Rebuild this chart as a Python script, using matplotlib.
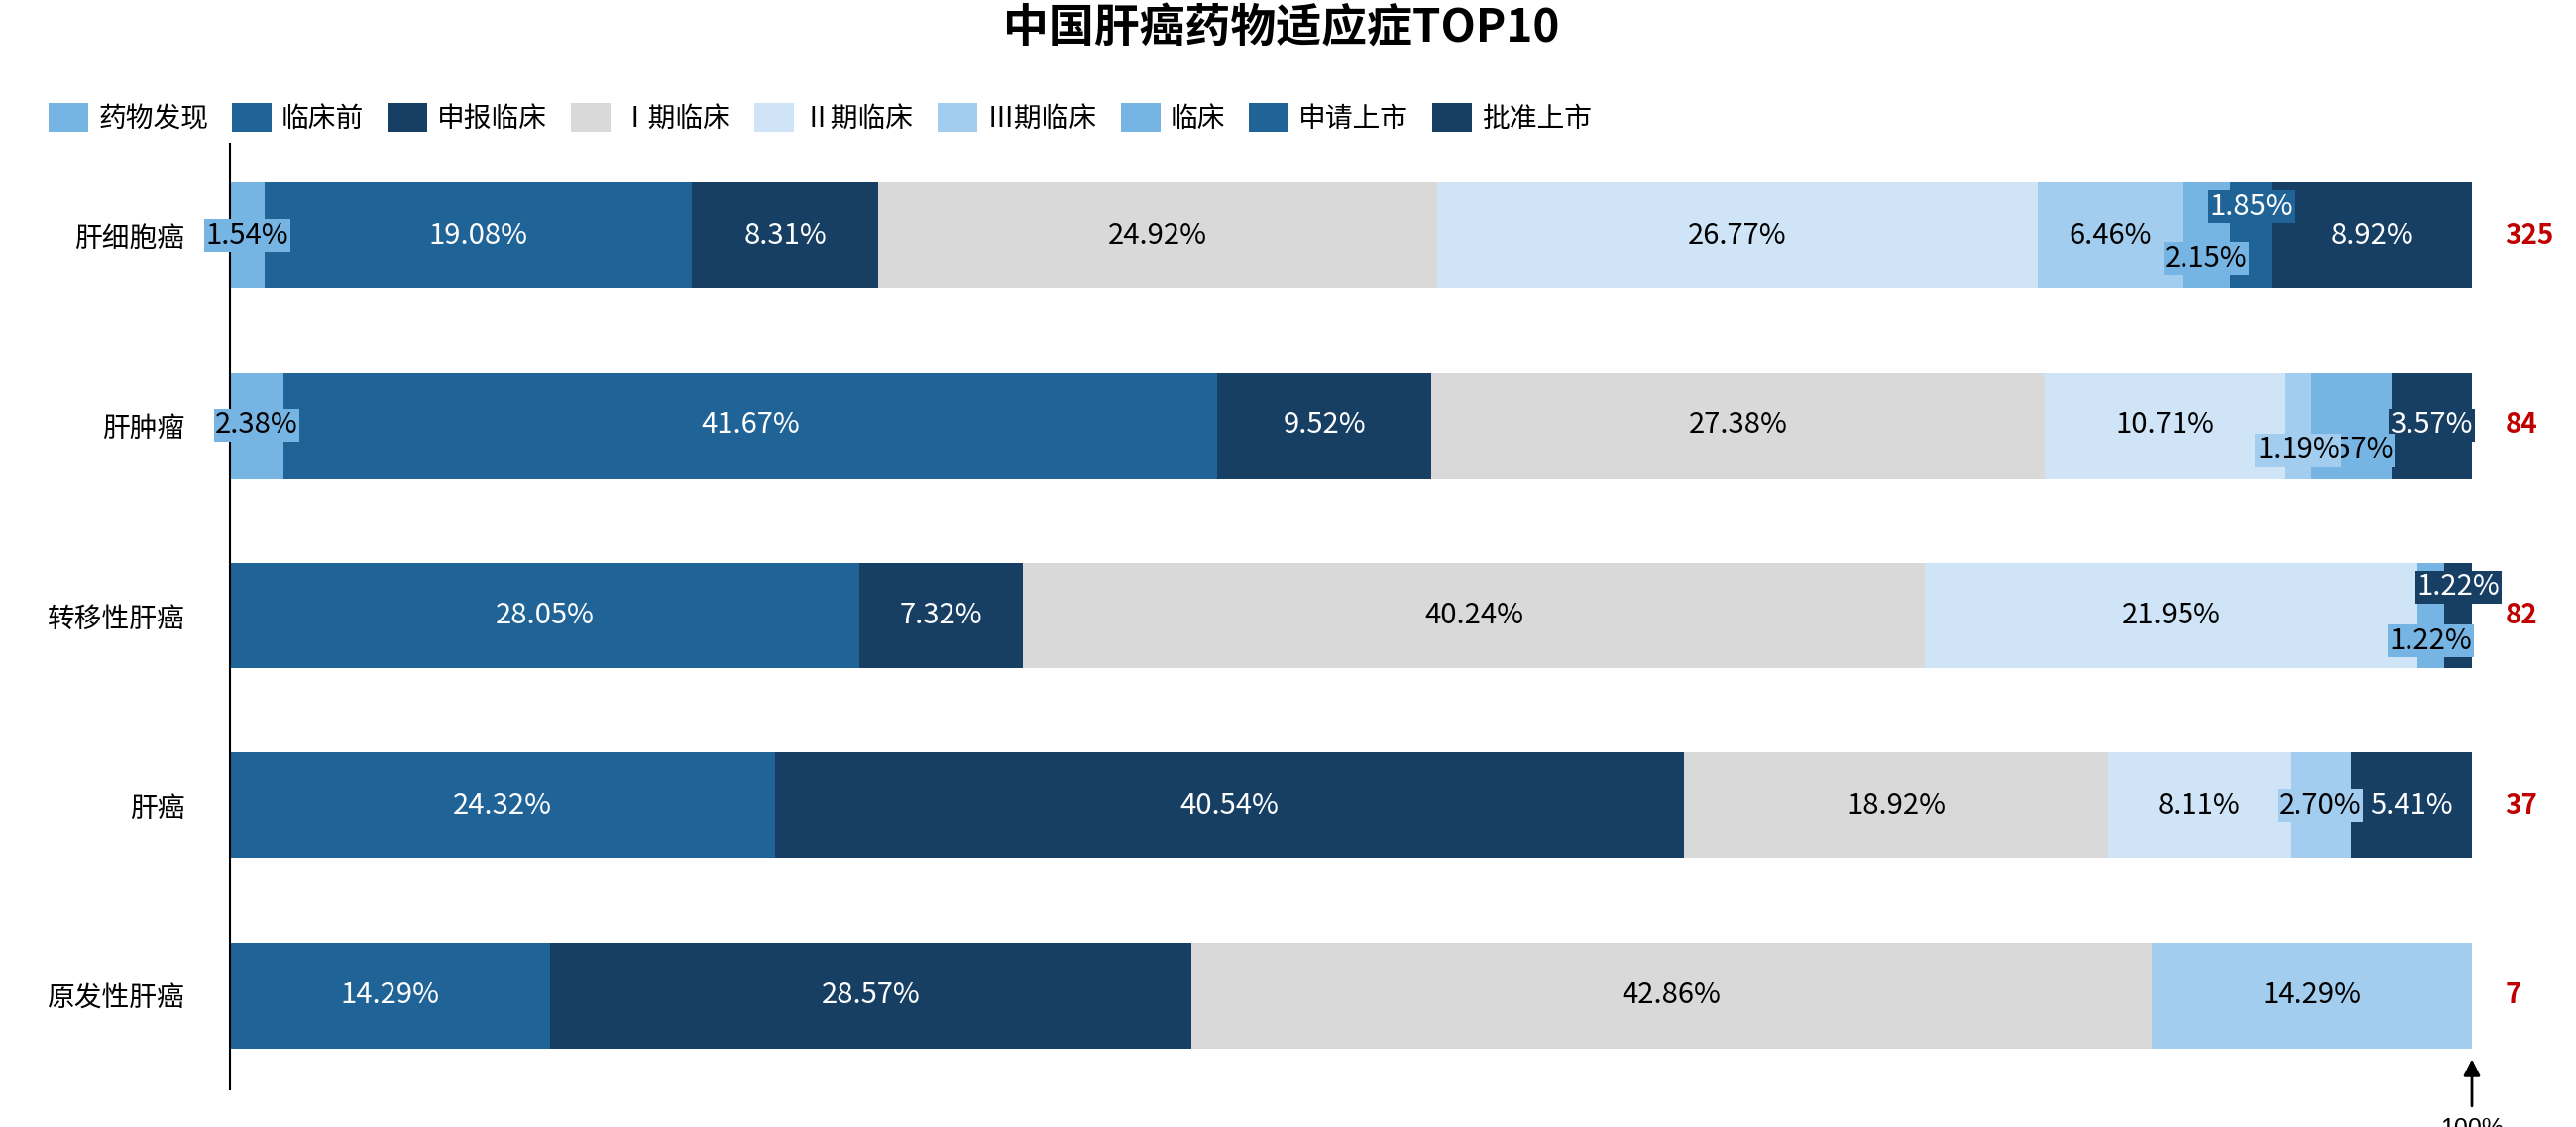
import matplotlib
matplotlib.use("Agg")
import matplotlib.pyplot as plt
from matplotlib.patches import Patch
import numpy as np

plt.rcParams['font.family'] = ['Noto Sans CJK SC', 'DejaVu Sans']

# data (percent of indications per stage)
categories = ['肝细胞癌', '肝肿瘤', '转移性肝癌', '肝癌', '原发性肝癌']
totals = [325, 84, 82, 37, 7]
stages = ['药物发现', '临床前', '申报临床', 'Ⅰ期临床', 'Ⅱ期临床', 'Ⅲ期临床', '临床', '申请上市', '批准上市']

drug_discovery = [1.54, 2.38, 0, 0, 0]
preclinical = [19.08, 41.67, 28.05, 24.32, 14.29]
ind_filing = [8.31, 9.52, 7.32, 40.54, 28.57]
phase1 = [24.92, 27.38, 40.24, 18.92, 42.86]
phase2 = [26.77, 10.71, 21.95, 8.11, 0]
phase3 = [6.46, 1.19, 0, 2.70, 14.29]
clinical = [2.15, 3.57, 1.22, 0, 0]
nda = [1.85, 0, 0, 0, 0]
approved = [8.92, 3.57, 1.22, 5.41, 0]

series = [drug_discovery, preclinical, ind_filing, phase1, phase2,
          phase3, clinical, nda, approved]

colors = ['#75B4E3', '#1F6397', '#173F64', '#D9D9D9', '#CFE4F6',
          '#A2CDEE', '#75B4E3', '#1F6397', '#173F64']
text_colors = ['black', 'white', 'white', 'black', 'black',
               'black', 'black', 'white', 'white']

# vertical nudges for crowded labels (row, series) -> offset in rows
label_nudge = {(0, 6): 0.12, (0, 7): -0.15,
               (1, 5): 0.13, (1, 6): 0.13,
               (2, 6): 0.135, (2, 8): -0.15}

fig = plt.figure(figsize=(25.99, 11.37), dpi=100)
ax = fig.add_axes([0.0893, 0.0334, 0.8703, 0.839])

y = np.arange(len(categories))
left = np.zeros(len(categories))
for j, vals in enumerate(series):
    vals = np.array(vals, dtype=float)
    ax.barh(y, vals, left=left, height=0.558, color=colors[j],
            edgecolor='none', zorder=2)
    for i, v in enumerate(vals):
        if v <= 0:
            continue
        ax.text(left[i] + v / 2, y[i] + label_nudge.get((i, j), 0),
                f'{v:.2f}%', ha='center', va='center', fontsize=21,
                color=text_colors[j], zorder=20 - j,
                bbox=dict(boxstyle='square,pad=0.05', fc=colors[j], ec='none'))
    left += vals

for i, t in enumerate(totals):
    ax.annotate(str(t), xy=(1, y[i]), xycoords=ax.get_yaxis_transform(),
                xytext=(24, 0), textcoords='offset points',
                ha='left', va='center', fontsize=20, fontweight='bold',
                color='#C00000')

ax.annotate('100%', xy=(100, 4.334), xytext=(100, 4.64),
            ha='center', va='top', fontsize=18, family='Liberation Sans',
            annotation_clip=False,
            arrowprops=dict(arrowstyle='-|>', color='black', lw=2,
                            mutation_scale=25, shrinkA=6, shrinkB=0))

ax.set_xlim(0, 100)
ax.set_ylim(4.494, -0.483)
ax.set_yticks(y)
ax.set_yticklabels(categories, fontsize=20)
ax.tick_params(axis='y', length=0, pad=33)
ax.set_xticks([])
for s in ['top', 'right', 'bottom']:
    ax.spines[s].set_visible(False)
ax.spines['left'].set_linewidth(1.5)
ax.spines['left'].set_color('black')

fig.text(0.4975, 0.974, '中国肝癌药物适应症TOP10', ha='center', va='center',
         fontsize=33, fontweight='bold')

handles = [Patch(facecolor=c, edgecolor='none') for c in colors]
fig.legend(handles, stages, loc='center left', bbox_to_anchor=(0.0189, 0.895),
           ncol=9, frameon=False, fontsize=20, handlelength=1.44,
           handleheight=1.22, handletextpad=0.36, columnspacing=0.86,
           borderpad=0, borderaxespad=0)

fig.savefig('out.png', dpi=100)
